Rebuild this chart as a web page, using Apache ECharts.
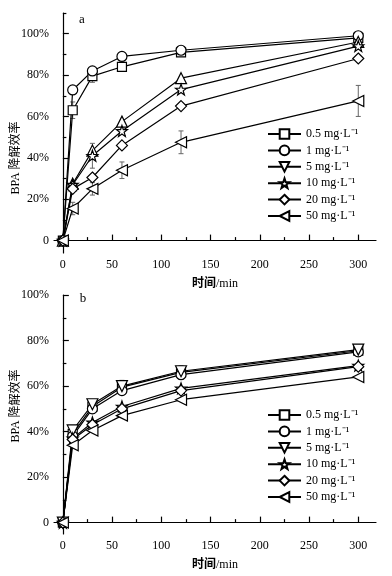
<!DOCTYPE html>
<html><head><meta charset="utf-8">
<script src="https://cdn.jsdelivr.net/npm/echarts@6/dist/echarts.min.js"></script>
<style>html,body{margin:0;padding:0;background:#fff}#c{width:392px;height:576px}</style>
</head><body><div id="c"></div>
<script>
const times = [0, 10, 30, 60, 120, 300];
const seriesNames = ['0.5 mg·L⁻¹', '1 mg·L⁻¹', '5 mg·L⁻¹', '10 mg·L⁻¹', '20 mg·L⁻¹', '50 mg·L⁻¹'];
// panel a
const a_05 = [0, 63, 79.5, 84, 91, 98];
const a_1 = [0, 72.8, 82, 89, 92, 99];
const a_5 = [0, 27.5, 43.5, 57.5, 78.5, 96];
const a_10 = [0, 27, 41, 53, 73, 94];
const a_20 = [0, 25, 30.5, 46, 65, 88];
const a_50 = [0, 15.5, 25, 34, 47.5, 67.5];
const a_err05 = [0, 4, 3, 0, 0, 0];
const a_err10 = [0, 0, 6, 0, 0, 0];
const a_err50 = [0, 3, 3, 4, 5.5, 7.5];
// panel b
const b_05 = [0, 39, 51, 59.5, 66, 75.5];
const b_1 = [0, 38, 50, 58, 65, 75];
const b_5 = [0, 40.5, 52, 60, 66.5, 76];
const b_10 = [0, 37, 44, 51, 59, 69];
const b_20 = [0, 36.5, 43, 50, 58, 68.5];
const b_50 = [0, 34, 40.5, 47, 54, 64];
const b_err05 = [0, 2, 3, 3, 3, 2.5];
// ticks
const xTicks = [0, 50, 100, 150, 200, 250, 300];
const xMinorTicks = [25, 75, 125, 175, 225, 275];
const yTicks = [0, 20, 40, 60, 80, 100];
const yMinorTicksA = [10, 30, 50, 70, 90, 110];
const yMinorTicksB = [10, 30, 50, 70, 90];

const FONT = '"Liberation Serif", "Noto Sans CJK SC", serif';
const downTri = 'path://M0,0 L10,0 L5,9 Z';
const leftTri = 'path://M0,5 L9,0 L9,10 Z';
const star = 'path://M0,-10 L2.35,-3.24 9.51,-3.09 3.8,1.24 5.88,8.09 0,4 -5.88,8.09 -3.8,1.24 -9.51,-3.09 -2.35,-3.24Z';
const symbols = ['rect', 'circle', downTri, star, 'diamond', leftTri];
const sizes = [9, 10, 11, 11, 11, 11];

function lineSeries(axisIdx, name, ys, si, itemSymbol) {
  return {
    type: 'line', name, xAxisIndex: axisIdx, yAxisIndex: axisIdx,
    symbol: symbols[si], symbolSize: sizes[si], showAllSymbol: true,
    data: times.map((t, i) => itemSymbol ? { value: [t, ys[i]], symbol: itemSymbol } : [t, ys[i]]),
    lineStyle: { color: '#000', width: 1.2 },
    itemStyle: { color: '#fff', borderColor: '#000', borderWidth: 1.2 },
    emphasis: { disabled: true }, animation: false, z: 3
  };
}
function errSeries(axisIdx, ys, errs) {
  const data = times.map((t, i) => [t, ys[i], errs[i]]).filter(d => d[2] > 0);
  return {
    type: 'custom', xAxisIndex: axisIdx, yAxisIndex: axisIdx, data, silent: true, z: 2, animation: false,
    renderItem(params, api) {
      const x = api.value(0), y = api.value(1), e = api.value(2);
      const p1 = api.coord([x, y + e]), p2 = api.coord([x, y - e]);
      const w = 2.5, st = { stroke: '#666', lineWidth: 1 };
      return { type: 'group', children: [
        { type: 'line', shape: { x1: p1[0], y1: p1[1], x2: p2[0], y2: p2[1] }, style: st },
        { type: 'line', shape: { x1: p1[0] - w, y1: p1[1], x2: p1[0] + w, y2: p1[1] }, style: st },
        { type: 'line', shape: { x1: p2[0] - w, y1: p2[1], x2: p2[0] + w, y2: p2[1] }, style: st }
      ]};
    }
  };
}
function xAxes(g) {
  return [
    { gridIndex: g, type: 'value', min: -9, max: 318, position: 'bottom',
      axisLine: { show: true, lineStyle: { color: '#000', width: 1.2 } },
      axisTick: { show: true, inside: true, length: 6, customValues: xTicks, lineStyle: { color: '#000', width: 1.2 } },
      axisLabel: { customValues: xTicks, color: '#000', fontFamily: FONT, fontSize: 12, margin: 6 },
      splitLine: { show: false },
      name: '{b|时间}/min', nameLocation: 'middle', nameGap: 25,
      nameTextStyle: { color: '#000', fontFamily: FONT, fontSize: 12,
        rich: { b: { fontFamily: FONT, fontSize: 12, fontWeight: 'bold', color: '#000' } } } },
    { gridIndex: g, type: 'value', min: -9, max: 318, position: 'bottom',
      axisLine: { show: false },
      axisTick: { show: true, inside: true, length: 3.5, customValues: xMinorTicks, lineStyle: { color: '#000', width: 1.2 } },
      axisLabel: { show: false }, splitLine: { show: false } }
  ];
}
function yAxes(g, min, max, minor) {
  return [
    { gridIndex: g, type: 'value', min, max, position: 'left',
      axisLine: { show: true, lineStyle: { color: '#000', width: 1.2 } },
      axisTick: { show: true, inside: true, length: 6, customValues: yTicks, lineStyle: { color: '#000', width: 1.2 } },
      axisLabel: { customValues: yTicks, color: '#000', fontFamily: FONT, fontSize: 12, margin: 5,
        formatter: v => v === 0 ? '0' : v + '%' },
      splitLine: { show: false } },
    { gridIndex: g, type: 'value', min, max, position: 'left',
      axisLine: { show: false },
      axisTick: { show: true, inside: true, length: 3.5, customValues: minor, lineStyle: { color: '#000', width: 1.2 } },
      axisLabel: { show: false }, splitLine: { show: false } }
  ];
}
function legend(top) {
  return { data: seriesNames, orient: 'vertical', left: 262, top, itemWidth: 33, itemHeight: 12, itemGap: 4.4,
    selectedMode: false, textStyle: { color: '#000', fontFamily: FONT, fontSize: 12 } };
}

const aData = [a_05, a_1, a_5, a_10, a_20, a_50];
const bData = [b_05, b_1, b_5, b_10, b_20, b_50];
const series = [];
aData.forEach((ys, i) => series.push(lineSeries(0, seriesNames[i], ys, i, i === 2 ? 'triangle' : null)));
series.push(errSeries(0, a_05, a_err05), errSeries(0, a_10, a_err10), errSeries(0, a_50, a_err50));
bData.forEach((ys, i) => series.push(lineSeries(2, seriesNames[i], ys, i, null)));
series.push(errSeries(2, b_05, b_err05));

const chart = echarts.init(document.getElementById('c'), null, { renderer: 'canvas' });
chart.setOption({
  animation: false,
  backgroundColor: '#fff',
  grid: [
    { left: 54, top: 13, width: 322, height: 240 },
    { left: 54, top: 295, width: 322, height: 239 }
  ],
  xAxis: [...xAxes(0), ...xAxes(1)],
  yAxis: [...yAxes(0, -6, 110, yMinorTicksA), ...yAxes(1, -5, 100, yMinorTicksB)],
  legend: [legend(123), legend(404)],
  graphic: [
    { type: 'text', x: 82, y: 20, style: { text: 'a', font: '13px ' + FONT, fill: '#000', textAlign: 'center', textVerticalAlign: 'middle' } },
    { type: 'text', x: 83, y: 299, style: { text: 'b', font: '13px ' + FONT, fill: '#000', textAlign: 'center', textVerticalAlign: 'middle' } },
    { type: 'text', x: 16, y: 158, rotation: Math.PI / 2, style: { text: 'BPA 降解效率', font: '12px ' + FONT, fill: '#000', textAlign: 'center', textVerticalAlign: 'middle' } },
    { type: 'text', x: 16, y: 406, rotation: Math.PI / 2, style: { text: 'BPA 降解效率', font: '12px ' + FONT, fill: '#000', textAlign: 'center', textVerticalAlign: 'middle' } }
  ],
  series
});
</script></body></html>
